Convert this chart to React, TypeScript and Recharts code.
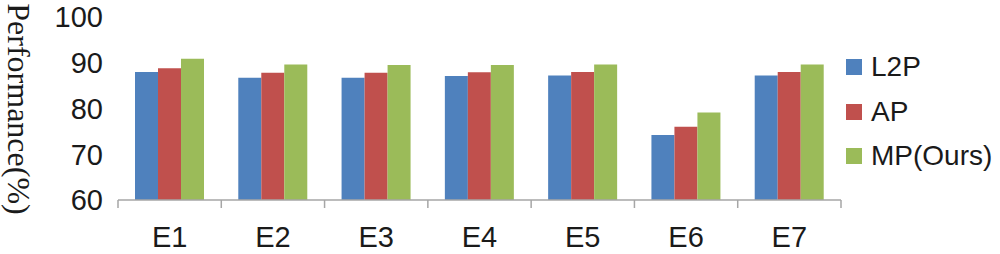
import { Bar, BarChart, XAxis, YAxis } from "recharts";

const categories = ["E1", "E2", "E3", "E4", "E5", "E6", "E7"];
const l2p = [88.0, 86.7, 86.7, 87.1, 87.2, 74.2, 87.2];
const ap = [88.8, 87.8, 87.8, 87.9, 88.0, 76.0, 88.0];
const mp = [90.9, 89.6, 89.5, 89.5, 89.6, 79.1, 89.6];
const yTicks = [60, 70, 80, 90, 100];

const series = [
    { key: "l2p", name: "L2P", color: "#4F81BD" },
    { key: "ap", name: "AP", color: "#C0504D" },
    { key: "mp", name: "MP(Ours)", color: "#9BBB59" },
];

const data = categories.map((name, i) => ({
    name,
    l2p: l2p[i],
    ap: ap[i],
    mp: mp[i],
}));

const axisColor = "#A6A6A6";
const sans = "'Liberation Sans', Arial, sans-serif";

function CategoryTick(props: any) {
    const { x, y, payload, index, visibleTicksCount } = props;
    const half = payload?.offset ?? 723 / 7 / 2;
    return (
        <g>
            <line x1={x - half} y1={y} x2={x - half} y2={y + 8} stroke={axisColor} strokeWidth={1.5} />
            {index === visibleTicksCount - 1 && (
                <line x1={x + half} y1={y} x2={x + half} y2={y + 8} stroke={axisColor} strokeWidth={1.5} />
            )}
            <text x={x} y={y + 46.5} textAnchor="middle" fontSize={29} fontFamily={sans} fill="#1a1a1a">
                {payload.value}
            </text>
        </g>
    );
}

export default function App() {
    return (
        <div style={{ position: "absolute", left: 0, top: 0, width: 1000, height: 254, background: "#fff" }}>
            <BarChart
                width={1000}
                height={254}
                data={data}
                margin={{ top: 17, right: 159, left: 0, bottom: 0 }}
                barCategoryGap={17}
                barGap={0}
            >
                <XAxis
                    dataKey="name"
                    height={54}
                    tickLine={false}
                    tickSize={0}
                    tickMargin={0}
                    axisLine={{ stroke: axisColor, strokeWidth: 1.5 }}
                    tick={<CategoryTick />}
                    interval={0}
                />
                <YAxis
                    width={118}
                    domain={[60, 100]}
                    ticks={yTicks}
                    axisLine={false}
                    tickLine={false}
                    tickSize={6}
                    tickMargin={9}
                    tick={{ fill: "#1a1a1a", fontSize: 29, fontFamily: sans }}
                    label={{
                        content: () => (
                            <text
                                transform="translate(8,109) rotate(90)"
                                textAnchor="middle"
                                fontSize={32}
                                fontFamily="'Liberation Serif', 'Times New Roman', serif"
                                fill="#1a1a1a"
                            >
                                Performance(%)
                            </text>
                        ),
                    }}
                />
                {series.map((s) => (
                    <Bar key={s.key} dataKey={s.key} name={s.name} fill={s.color} isAnimationActive={false} />
                ))}
            </BarChart>
            <div style={{ position: "absolute", left: 846, top: 45, fontFamily: sans }}>
                {series.map((s) => (
                    <div key={s.key} style={{ display: "flex", alignItems: "center", height: 44.5 }}>
                        <div style={{ width: 16, height: 16, background: s.color, marginRight: 9 }} />
                        <span style={{ fontSize: 28, color: "#1a1a1a", lineHeight: "28px" }}>{s.name}</span>
                    </div>
                ))}
            </div>
        </div>
    );
}
